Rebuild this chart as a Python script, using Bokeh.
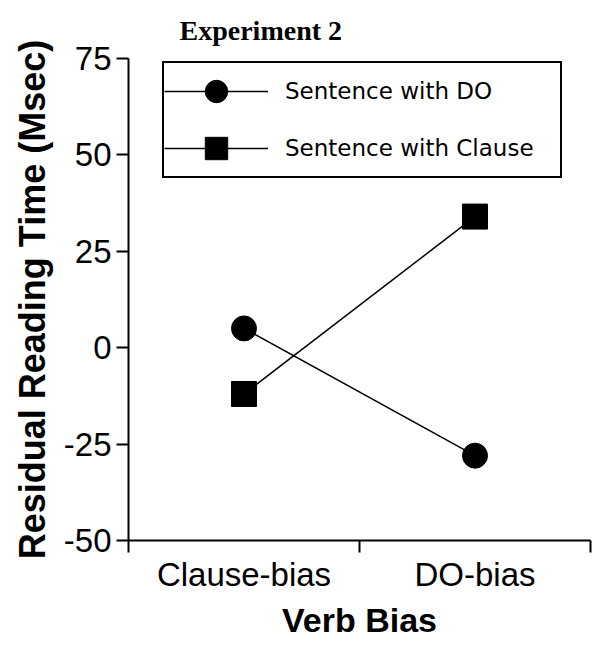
from bokeh.plotting import figure
from bokeh.models import Range1d, FixedTicker, Legend, LegendItem, Title
from bokeh.embed import file_html
from bokeh.resources import INLINE

# ---- data ----
categories = ["Clause-bias", "DO-bias"]
series_names = ["Sentence with DO", "Sentence with Clause"]
do_values = [5, -28]
clause_values = [-12, 34]
y_ticks = [-50, -25, 0, 25, 50, 75]

x_pos = [i + 0.5 for i in range(len(categories))]

p = figure(width=603, height=646,
           x_range=Range1d(0, len(categories)), y_range=Range1d(-50, 75),
           output_backend="svg", toolbar_location=None,
           min_border_left=128, min_border_right=13, min_border_top=56,
           min_border_bottom=106)
p.outline_line_color = None
p.xgrid.grid_line_color = None
p.ygrid.grid_line_color = None
p.background_fill_color = "white"
p.border_fill_color = "white"

title = Title(text="Experiment 2", align="left", offset=51,
              text_font="Liberation Serif", text_font_size="28px",
              text_font_style="bold", text_color="black", standoff=25)
p.add_layout(title, "above")

# y axis
ya = p.yaxis[0]
ya.ticker = FixedTicker(ticks=y_ticks)
ya.major_label_overrides = {t: str(t) for t in y_ticks}
ya.axis_line_width = 2
ya.axis_line_color = "black"
ya.major_tick_line_width = 2
ya.major_tick_line_color = "black"
ya.major_tick_out = 12
ya.major_tick_in = 0
ya.minor_tick_line_color = None
ya.major_label_text_font = "Liberation Sans"
ya.major_label_text_font_size = "33px"
ya.major_label_text_color = "black"
ya.major_label_standoff = 5
ya.axis_label = "Residual Reading Time (Msec)"
ya.axis_label_text_font = "Liberation Sans"
ya.axis_label_text_font_size = "36px"
ya.axis_label_text_font_style = "bold"
ya.axis_label_text_color = "black"
ya.axis_label_standoff = 8

# x axis
xa = p.xaxis[0]
xa.ticker = FixedTicker(ticks=x_pos, minor_ticks=list(range(len(categories) + 1)))
xa.major_label_overrides = {x: c for x, c in zip(x_pos, categories)}
xa.axis_line_width = 2
xa.axis_line_color = "black"
xa.major_tick_out = 0
xa.major_tick_in = 0
xa.major_tick_line_color = None
xa.minor_tick_out = 12
xa.minor_tick_in = 0
xa.minor_tick_line_width = 2
xa.minor_tick_line_color = "black"
xa.major_label_text_font = "Liberation Sans"
xa.major_label_text_font_size = "33px"
xa.major_label_text_color = "black"
xa.major_label_standoff = 3
xa.axis_label = "Verb Bias"
xa.axis_label_text_font = "Liberation Sans"
xa.axis_label_text_font_size = "34px"
xa.axis_label_text_font_style = "bold"
xa.axis_label_text_color = "black"
xa.axis_label_standoff = 5

# series
l1 = p.line(x_pos, do_values, line_color="black", line_width=1.5)
m1 = p.scatter(x_pos, do_values, marker="circle", size=25,
               fill_color="black", line_color="black")
l2 = p.line(x_pos, clause_values, line_color="black", line_width=1.5)
m2 = p.scatter(x_pos, clause_values, marker="square", size=25,
               fill_color="black", line_color="black")

legend = Legend(items=[LegendItem(label=series_names[0], renderers=[l1, m1]),
                       LegendItem(label=series_names[1], renderers=[l2, m2])],
                location=(34, 362), padding=0, spacing=1,
                glyph_width=104, glyph_height=56, label_standoff=17,
                label_width=275,
                label_text_font="DejaVu Sans", label_text_font_size="23px",
                label_text_color="black",
                border_line_color="black", border_line_width=2,
                border_line_alpha=1.0,
                background_fill_color="white", background_fill_alpha=1.0,
                margin=0)
p.add_layout(legend, "center")

open("out.html", "w").write(file_html(p, INLINE))
